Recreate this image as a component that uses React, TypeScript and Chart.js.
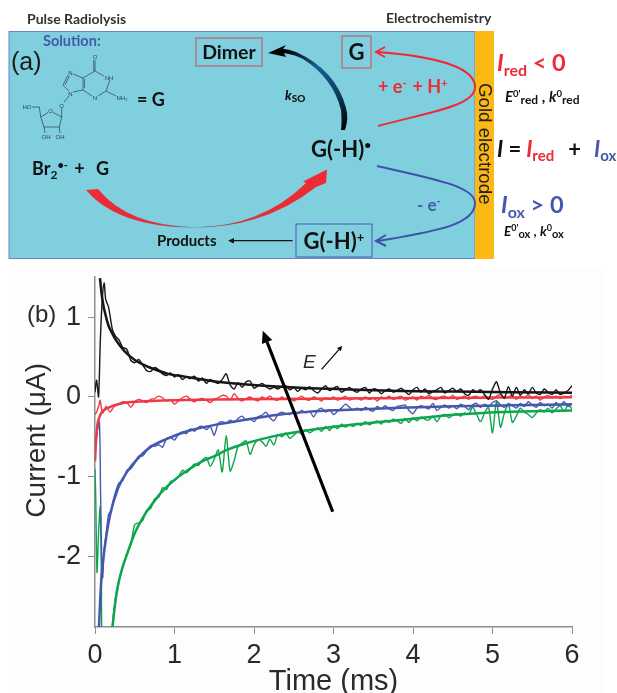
import React, { useEffect, useRef } from "react";
import { Chart, registerables } from "chart.js";

Chart.register(...registerables);

const xTickValues = [0, 1, 2, 3, 4, 5, 6];
const yTickValues = [-2, -1, 0, 1];

const gridTimes = [
  0.3, 0.35, 0.4, 0.45, 0.5, 0.55, 0.6, 0.65, 0.7, 0.75,
  0.8, 0.85, 0.9, 0.95, 1.0, 1.05, 1.1, 1.15, 1.2, 1.25,
  1.3, 1.35, 1.4, 1.45, 1.5, 1.55, 1.6, 1.65, 1.7, 1.75,
  1.8, 1.85, 1.9, 1.95, 2.0, 2.05, 2.1, 2.15, 2.2, 2.25,
  2.3, 2.35, 2.4, 2.45, 2.5, 2.55, 2.6, 2.65, 2.7, 2.75,
  2.8, 2.85, 2.9, 2.95, 3.0, 3.05, 3.1, 3.15, 3.2, 3.25,
  3.3, 3.35, 3.4, 3.45, 3.5, 3.55, 3.6, 3.65, 3.7, 3.75,
  3.8, 3.85, 3.9, 3.95, 4.0, 4.05, 4.1, 4.15, 4.2, 4.25,
  4.3, 4.35, 4.4, 4.45, 4.5, 4.55, 4.6, 4.65, 4.7, 4.75,
  4.8, 4.85, 4.9, 4.95, 5.0, 5.05, 5.1, 5.15, 5.2, 5.25,
  5.3, 5.35, 5.4, 5.45, 5.5, 5.55, 5.6, 5.65, 5.7, 5.75,
  5.8, 5.85, 5.9, 5.95, 6.0,
];

const blackMeasured = [
  0.72, 0.62, 0.6, 0.46, 0.43, 0.47, 0.4, 0.33, 0.32, 0.37,
  0.34, 0.29, 0.27, 0.3, 0.25, 0.28, 0.22, 0.25, 0.23, 0.26,
  0.2, 0.24, 0.17, 0.22, 0.19, 0.17, 0.22, 0.29, 0.15, 0.1,
  0.18, 0.12, 0.19, 0.2, 0.11, 0.14, 0.17, 0.13, 0.1, 0.12,
  0.1, 0.13, 0.14, 0.09, 0.12, 0.07, 0.11, 0.09, 0.13, 0.08,
  0.05, 0.1, 0.14, 0.08, 0.11, 0.13, 0.06, 0.09, 0.12, 0.08,
  0.06, 0.1, 0.12, 0.05, 0.1, 0.09, 0.04, 0.08, 0.1, 0.06,
  0.08, 0.11, 0.07, 0.03, 0.09, 0.12, 0.06, 0.1, 0.04, 0.07,
  0.09, 0.12, 0.05, 0.08, 0.11, 0.07, 0.1, 0.04, 0.02, 0.09,
  0.06, 0.09, 0.03, -0.03, 0.1, 0.19, 0.05, -0.01, 0.13, 0.01,
  0.12, 0.02, 0.09, 0.04, 0.12, 0.05, 0.03, 0.1, 0.06, 0.03,
  0.09, 0.03, 0.05, 0.08, 0.14,
];
const redMeasured = [
  -0.09, -0.06, -0.07, -0.13, -0.06, -0.03, -0.05, -0.07, -0.03, -0.02,
  0.01, -0.01, -0.05, -0.03, -0.09, -0.05, -0.01, 0.01, -0.03, -0.06,
  -0.03, -0.02, -0.04, -0.07, -0.03, -0.01, 0.02, 0.01, -0.04, 0.04,
  -0.02, -0.05, -0.02, 0.0, -0.03, -0.05, 0.0, -0.02, 0.01, -0.03,
  -0.04, 0.0, -0.03, -0.01, -0.05, -0.02, 0.01, -0.03, -0.04, 0.0,
  -0.02, -0.05, -0.01, -0.03, 0.0, -0.04, -0.02, 0.01, -0.04, -0.02,
  -0.01, -0.04, 0.0, -0.03, -0.01, -0.05, 0.0, -0.02, 0.01, -0.03,
  -0.01, 0.01, -0.04, -0.02, 0.0, -0.04, 0.01, -0.01, 0.02, -0.02,
  -0.03, 0.0, 0.01, -0.02, 0.02, -0.03, -0.01, 0.01, -0.03, 0.0,
  0.01, -0.02, 0.02, -0.01, -0.03, 0.01, 0.03, -0.02, 0.0, 0.02,
  -0.03, 0.01, -0.01, 0.03, -0.02, 0.01, -0.04, 0.0, 0.02, -0.01,
  0.01, -0.02, 0.01, 0.0, 0.02,
];
const blueMeasured = [
  -1.08, -1.05, -0.92, -0.9, -0.83, -0.74, -0.74, -0.67, -0.61, -0.62,
  -0.6, -0.63, -0.52, -0.51, -0.54, -0.47, -0.44, -0.46, -0.4, -0.43,
  -0.38, -0.37, -0.41, -0.37, -0.48, -0.33, -0.31, -0.33, -0.29, -0.32,
  -0.27, -0.24, -0.29, -0.27, -0.31, -0.25, -0.23, -0.19, -0.26, -0.3,
  -0.22, -0.19, -0.21, -0.22, -0.18, -0.21, -0.17, -0.2, -0.18, -0.25,
  -0.17, -0.14, -0.19, -0.16, -0.22, -0.18, -0.14, -0.09, -0.13, -0.16,
  -0.14, -0.17, -0.13, -0.16, -0.18, -0.12, -0.15, -0.11, -0.15, -0.17,
  -0.12, -0.11, -0.1, -0.17, -0.21, -0.14, -0.11, -0.13, -0.15, -0.08,
  -0.17, -0.13, -0.1, -0.14, -0.11, -0.15, -0.09, -0.12, -0.16, -0.1,
  -0.08, -0.13, -0.09, -0.12, -0.07, -0.05, -0.1, -0.13, -0.08, -0.11,
  -0.14, -0.08, -0.12, -0.06, -0.1, -0.13, -0.07, -0.11, -0.09, -0.14,
  -0.07, -0.11, -0.06, -0.12, -0.08,
];
const greenMeasured = [
  -2.32, -2.12, -1.98, -1.85, -1.6, -1.58, -1.55, -1.42, -1.4, -1.28,
  -1.26, -1.14, -1.16, -1.06, -1.05, -1.0, -0.92, -0.95, -0.9, -0.84,
  -0.86, -0.79, -0.76, -0.87, -0.78, -0.665, -0.94, -0.485, -0.93, -0.8,
  -0.62, -0.58, -0.55, -0.72, -0.6, -0.54, -0.56, -0.62, -0.53, -0.6,
  -0.47, -0.5, -0.45, -0.52, -0.48, -0.44, -0.46, -0.41, -0.45, -0.42,
  -0.39, -0.43, -0.37, -0.42, -0.36, -0.4, -0.34, -0.38, -0.35, -0.37,
  -0.33, -0.36, -0.31, -0.35, -0.32, -0.3, -0.34, -0.29, -0.32, -0.28,
  -0.3, -0.33, -0.27, -0.32, -0.26, -0.3, -0.25, -0.28, -0.29, -0.24,
  -0.31, -0.24, -0.22, -0.26, -0.23, -0.21, -0.24, -0.2, -0.22, -0.13,
  -0.22, -0.31, -0.2, -0.13, -0.45, -0.05, -0.38, -0.2, -0.09, -0.32,
  -0.24, -0.14, -0.19, -0.22, -0.26, -0.2, -0.16, -0.19, -0.14, -0.2,
  -0.15, -0.11, -0.18, -0.1, -0.15,
];

const blackEarlyTimes = [0, 0.02, 0.045, 0.065, 0.09, 0.115, 0.135, 0.17, 0.22, 0.26];
const blackEarly = [0.06, 0.21, 0.0, 0.65, 1.2, 1.43, 1.22, 1.13, 0.84, 0.76];
const redEarlyTimes = [0, 0.025, 0.05, 0.065, 0.08, 0.1, 0.14, 0.19, 0.24];
const redEarly = [-0.22, -0.18, -0.1, -0.04, -0.14, -0.2, -0.12, -0.19, -0.12];
const blueEarlyTimes = [0, 0.02, 0.055, 0.07, 0.085, 0.097, 0.113, 0.14, 0.17, 0.2, 0.25];
const blueEarly = [-0.75, -0.5, -0.31, -1.2, -2.08, -2.27, -1.96, -1.72, -1.48, -1.42, -1.22];
const greenEarlyTimes = [0, 0.01, 0.025, 0.045, 0.065, 0.08, 0.1, 0.2, 0.22, 0.26];
const greenEarly = [-0.9, -1.3, -2.2, -1.7, -1.38, -2.2, -3.2, -3.2, -2.85, -2.5];

const blackFitTimes = [0.063, 0.08, 0.105, 0.135, 0.168, 0.21, 0.25, 0.31, 0.377, 0.5, 0.6, 0.713, 0.92, 1.13, 1.47, 1.87, 2.28, 2.7, 3.12, 3.84, 4.5, 5.2, 6];
const blackFit = [1.49, 1.32, 1.15, 1.02, 0.9, 0.81, 0.736, 0.65, 0.57, 0.464, 0.41, 0.36, 0.29, 0.255, 0.2, 0.16, 0.13, 0.11, 0.096, 0.075, 0.068, 0.06, 0.054];
const redFitTimes = [0, 0.01, 0.03, 0.05, 0.08, 0.12, 0.17, 0.29, 0.42, 0.71, 1.0, 1.51, 2.3, 3.1, 4, 5, 6];
const redFit = [-0.81, -0.6, -0.35, -0.27, -0.2, -0.16, -0.134, -0.092, -0.066, -0.05, -0.04, -0.033, -0.025, -0.018, -0.012, -0.008, -0.005];
const blueFitTimes = [0.05, 0.065, 0.084, 0.126, 0.19, 0.29, 0.42, 0.54, 0.71, 0.92, 1.13, 1.34, 1.51, 1.87, 2.28, 2.7, 3.12, 3.84, 4.5, 5.2, 6];
const blueFit = [-2.89, -2.55, -2.23, -1.86, -1.48, -1.145, -0.916, -0.77, -0.62, -0.52, -0.44, -0.385, -0.35, -0.29, -0.226, -0.184, -0.163, -0.134, -0.118, -0.105, -0.092];
const greenFitTimes = [0.22, 0.25, 0.29, 0.34, 0.4, 0.5, 0.61, 0.71, 0.84, 1, 1.17, 1.34, 1.51, 1.66, 1.87, 2.28, 2.7, 3.12, 3.54, 3.84, 4.34, 4.97, 5.5, 6];
const greenFit = [-2.89, -2.62, -2.36, -2.16, -1.98, -1.71, -1.5, -1.355, -1.19, -1.04, -0.916, -0.81, -0.74, -0.665, -0.59, -0.485, -0.414, -0.36, -0.318, -0.289, -0.238, -0.195, -0.18, -0.17];

const bigArrowTail = { x: 2.99, y: -1.44 };
const bigArrowTip = { x: 2.11, y: 0.83 };
const smallArrowTail = { x: 2.85, y: 0.347 };
const smallArrowTip = { x: 3.11, y: 0.64 };

const BLACK = "#161616";
const RED = "#ee3a45";
const BLUE = "#4658ad";
const GREEN = "#0da64f";
const AXIS = "#8e8e8e";
const FONT = "'Liberation Sans', Arial, sans-serif";

function zip(ts: number[], vs: number[]) {
  return ts.map((t, i) => ({ x: t, y: vs[i] }));
}

function measured(label: string, color: string, et: number[], ev: number[], gv: number[]) {
  return {
    label,
    data: [...zip(et, ev), ...zip(gridTimes, gv)],
    borderColor: color,
    borderWidth: 1.4,
    pointRadius: 0,
    tension: 0.25,
  };
}
function fitted(label: string, color: string, ts: number[], vs: number[]) {
  return {
    label,
    data: zip(ts, vs),
    borderColor: color,
    borderWidth: 2.5,
    pointRadius: 0,
    cubicInterpolationMode: "monotone" as const,
  };
}

const annotate = {
  id: "annotate",
  beforeDraw(chart: any) {
    const c = chart.ctx;
    c.save();
    c.fillStyle = "#fdfdfd";
    c.fillRect(10, 268, 595, 425);
    c.restore();
  },
  afterDraw(chart: any) {
    const c = chart.ctx;
    const sx = chart.scales.x;
    const sy = chart.scales.y;
    const arrow = (a: any, b: any, w: number, hl: number, hw: number) => {
      const x0 = sx.getPixelForValue(a.x), y0 = sy.getPixelForValue(a.y);
      const x1 = sx.getPixelForValue(b.x), y1 = sy.getPixelForValue(b.y);
      const ang = Math.atan2(y1 - y0, x1 - x0);
      const bx = x1 - hl * Math.cos(ang), by = y1 - hl * Math.sin(ang);
      c.save();
      c.strokeStyle = "#000";
      c.fillStyle = "#000";
      c.lineWidth = w;
      c.beginPath();
      c.moveTo(x0, y0);
      c.lineTo(bx, by);
      c.stroke();
      c.beginPath();
      c.moveTo(x1, y1);
      c.lineTo(bx + hw * Math.sin(ang), by - hw * Math.cos(ang));
      c.lineTo(bx - hw * Math.sin(ang), by + hw * Math.cos(ang));
      c.closePath();
      c.fill();
      c.restore();
    };
    arrow(bigArrowTail, bigArrowTip, 3.2, 12, 5.5);
    arrow(smallArrowTail, smallArrowTip, 1.2, 5, 2.5);
    c.save();
    c.fillStyle = "#2a2a2a";
    c.font = `italic 19px ${FONT}`;
    c.textBaseline = "alphabetic";
    c.fillText("E", 303, 368);
    c.font = `24px ${FONT}`;
    c.fillText("(b)", 27, 322);
    c.restore();
  },
};

const bold = "Lato, 'Open Sans', sans-serif";

function Schematic() {
  const ink = "#2c3e50";
  const bonds = [
    [95, 60, 95, 71], [93.8, 60, 93.8, 71], [95, 71, 104, 76], [110, 80, 106, 91], [106, 91, 98, 96],
    [92, 96, 83, 90], [83, 90, 83, 78], [83, 78, 95, 71], [84.4, 88, 84.4, 79], [106, 91, 116, 96],
    [83, 78, 73, 74], [68, 75, 63, 85], [69.5, 76, 65, 85], [63, 85, 69, 91], [73, 92, 83, 90],
    [69, 96, 64, 102], [61.7, 108, 61.7, 117], [61.7, 117, 53, 112.5], [48, 112.5, 40.7, 117],
    [40.7, 117, 44, 127], [44, 127, 59.3, 127], [59.3, 127, 61.7, 117], [40.7, 117, 39.3, 107],
    [39.3, 107, 32, 107], [44, 127, 45, 133], [59.3, 127, 60, 133],
  ];
  const ch = (x: number, y: number, t: string, s = 6) => (
    <text x={x} y={y} fontSize={s} fontFamily={FONT} fill={ink} textAnchor="middle">{t}</text>
  );
  return (
    <svg width={617} height={265} style={{ position: "absolute", left: 0, top: 0, pointerEvents: "none" }}>
      <defs>
        <linearGradient id="redG" gradientUnits="userSpaceOnUse" x1="86" y1="200" x2="327" y2="200">
          <stop offset="0" stopColor="#ee2a35" />
          <stop offset="0.3" stopColor="#e0303a" />
          <stop offset="0.45" stopColor="#2f7f9a" />
          <stop offset="0.6" stopColor="#c8404a" />
          <stop offset="0.8" stopColor="#ee2a35" />
        </linearGradient>
        <linearGradient id="blackG" gradientUnits="userSpaceOnUse" x1="345" y1="130" x2="272" y2="48">
          <stop offset="0" stopColor="#000" />
          <stop offset="0.3" stopColor="#0d3f66" />
          <stop offset="0.6" stopColor="#1b5f8c" />
          <stop offset="0.9" stopColor="#000" />
        </linearGradient>
      </defs>
      <rect x={9} y={31.5} width={466} height={227} fill="#80cfdf" stroke="#6b82c9" strokeWidth={1} />
      <rect x={475} y={31} width={19} height={228} fill="#fdb913" />
      <text x={27} y={24} fontFamily={bold} fontWeight={700} fontSize={14} fill="#333">Pulse Radiolysis</text>
      <text x={386} y={23} fontFamily={bold} fontWeight={700} fontSize={14} fill="#333">Electrochemistry</text>
      <text x={43} y={46} fontFamily={bold} fontWeight={700} fontSize={14.5} fill="#4658ad">Solution:</text>
      <text x={11} y={70} fontFamily={FONT} fontSize={25} fill="#1a1a1a">(a)</text>

      {bonds.map((b, i) => (
        <line key={i} x1={b[0]} y1={b[1]} x2={b[2]} y2={b[3]} stroke={ink} strokeWidth={0.7} />
      ))}
      {ch(95, 59, "O")}
      {ch(109, 80, "NH")}
      {ch(95, 100, "N")}
      {ch(70.5, 75, "N")}
      {ch(70.5, 96, "N")}
      {ch(122, 99.5, "NH₂")}
      {ch(61.7, 107.5, "O")}
      {ch(50.5, 113, "O")}
      {ch(27, 109, "HO")}
      {ch(46, 138.5, "OH")}
      {ch(60, 138.5, "OH")}

      <text x={137} y={106} fontFamily={bold} fontWeight={700} fontSize={18} fill="#111">= G</text>
      <text x={32} y={175} fontFamily={bold} fontWeight={700} fontSize={18} fill="#111">
        Br<tspan fontSize={12} dy={4}>2</tspan>
        <tspan fontSize={11} dy={-10}>•-</tspan>
        <tspan dy={6} dx={2}> + </tspan><tspan dx={7}>G</tspan>
      </text>

      <path d="M86,190 Q118,227.5 195,227.5 Q265,227.5 316,187 L326,183 L327,169.5 L303,181.5 L306,183 Q262,226.5 195,227.2 Q128,226 98,189 Z" fill="url(#redG)" />

      <path d="M341,130 L345,130 Q349,118 346,108 Q336,70 296,52 Q288,49 283,49 L286,45 L268,53 L286,57 L284,53 Q296,55 303,59 Q333,78 341,110 Q342,122 341,130 Z" fill="url(#blackG)" />
      <text x={285} y={100} fontFamily={bold} fontWeight={900} fontSize={13} fill="#111">
        <tspan fontStyle="italic">k</tspan><tspan fontSize={10} dy={2}>SO</tspan>
      </text>

      <rect x={196} y={38} width={66} height={28} fill="none" stroke="#d04a5a" strokeWidth={1} />
      <text x={229} y={59} textAnchor="middle" fontFamily={bold} fontWeight={700} fontSize={19.5} fill="#111">Dimer</text>
      <rect x={342} y={36} width={29} height={32} fill="none" stroke="#d04a5a" strokeWidth={1} />
      <text x={356.5} y={60} textAnchor="middle" fontFamily={bold} fontWeight={700} fontSize={22} fill="#111">G</text>

      <path d="M378,126 C430,112 475,106 475,87 C475,66 430,56 378,52" fill="none" stroke="#ee2a35" strokeWidth={2} />
      <path d="M385,47 L376,52 L385,57" fill="none" stroke="#ee2a35" strokeWidth={2} />
      <text x={378} y={93} fontFamily={bold} fontWeight={700} fontSize={18} fill="#ee2a35">
        + e<tspan fontSize={11} dy={-6}>-</tspan><tspan dy={6} dx={6}>+ H</tspan><tspan fontSize={11} dy={-6}>+</tspan>
      </text>

      <text x={311} y={157} fontFamily={bold} fontWeight={700} fontSize={22} fill="#111">
        G(-H)<tspan fontSize={12} dy={-8}>•</tspan>
      </text>

      <path d="M377,166 C430,178 475,186 475,203 C475,226 430,232 378,241" fill="none" stroke="#3f51a8" strokeWidth={2} />
      <path d="M386,235 L376,241 L386,246" fill="none" stroke="#3f51a8" strokeWidth={2} />
      <text x={417} y={211} fontFamily={bold} fontWeight={700} fontSize={17} fill="#4658ad">
        - e<tspan fontSize={11} dy={-6}>-</tspan>
      </text>

      <rect x={296} y={224} width={76} height={33} fill="none" stroke="#4658ad" strokeWidth={1} />
      <text x={334} y={249} textAnchor="middle" fontFamily={bold} fontWeight={700} fontSize={22} fill="#111">
        G(-H)<tspan fontSize={13} dy={-7}>+</tspan>
      </text>

      <text x={157} y={246} fontFamily={bold} fontWeight={700} fontSize={15} fill="#111">Products</text>
      <line x1={292.5} y1={240.7} x2={231} y2={240.7} stroke="#111" strokeWidth={1.2} />
      <path d="M228,240.7 L234,238 L234,243.5 Z" fill="#111" />

      <text transform="translate(479,83) rotate(90)" fontFamily={FONT} fontSize={18.7} fill="#222">Gold electrode</text>

      <text x={497} y={71} fontFamily={bold} fontWeight={700} fontSize={23.5} fill="#ee2a35">
        <tspan fontStyle="italic">I</tspan><tspan fontSize={16} dy={5}>red</tspan><tspan dy={-5}> {"<"} 0</tspan>
      </text>
      <text x={505} y={102} fontFamily={bold} fontWeight={700} fontSize={15} fill="#111">
        <tspan fontStyle="italic">E</tspan><tspan fontSize={9.5} dy={-5}>0'</tspan><tspan fontSize={12} dy={7}>red</tspan>
        <tspan fontSize={15} dy={-2}> , </tspan><tspan fontStyle="italic">k</tspan><tspan fontSize={9.5} dy={-5}>0</tspan>
        <tspan fontSize={12} dy={7}>red</tspan>
      </text>

      <text x={497} y={157} fontFamily={bold} fontWeight={700} fontSize={22} fill="#111">
        <tspan fontStyle="italic">I</tspan> =
        <tspan fill="#ee2a35" fontStyle="italic"> I</tspan><tspan fill="#ee2a35" fontSize={15} dy={4}>red</tspan>
        <tspan dy={-4} dx={14}>+</tspan>
        <tspan fill="#4658ad" fontStyle="italic" dx={13}>I</tspan><tspan fill="#4658ad" fontSize={15} dy={4}>ox</tspan>
      </text>

      <text x={501} y={213} fontFamily={bold} fontWeight={700} fontSize={23.5} fill="#4658ad">
        <tspan fontStyle="italic">I</tspan><tspan fontSize={16} dy={5}>ox</tspan><tspan dy={-5}> {">"} 0</tspan>
      </text>
      <text x={504} y={236} fontFamily={bold} fontWeight={700} fontSize={13.5} fill="#111">
        <tspan fontStyle="italic">E</tspan><tspan fontSize={9} dy={-5}>0'</tspan><tspan fontSize={11} dy={7}>ox</tspan>
        <tspan fontSize={13.5} dy={-2}> , </tspan><tspan fontStyle="italic">k</tspan><tspan fontSize={9} dy={-5}>0</tspan>
        <tspan fontSize={11} dy={7}>ox</tspan>
      </text>
    </svg>
  );
}

export default function App() {
  const ref = useRef<HTMLCanvasElement>(null);
  useEffect(() => {
    const chart = new Chart(ref.current!, {
      type: "line",
      plugins: [annotate],
      data: {
        datasets: [
          measured("Black measured", BLACK, blackEarlyTimes, blackEarly, blackMeasured),
          fitted("Black fit", BLACK, blackFitTimes, blackFit),
          measured("Red measured", RED, redEarlyTimes, redEarly, redMeasured),
          fitted("Red fit", RED, redFitTimes, redFit),
          measured("Blue measured", BLUE, blueEarlyTimes, blueEarly, blueMeasured),
          fitted("Blue fit", BLUE, blueFitTimes, blueFit),
          measured("Green measured", GREEN, greenEarlyTimes, greenEarly, greenMeasured),
          fitted("Green fit", GREEN, greenFitTimes, greenFit),
        ] as any,
      },
      options: {
        responsive: false,
        animation: false,
        devicePixelRatio: 1,
        layout: { padding: { top: 277, right: 45, left: 0, bottom: 0 } },
        plugins: { legend: { display: false }, tooltip: { enabled: false } },
        scales: {
          x: {
            type: "linear",
            min: 0,
            max: 6,
            afterBuildTicks: (s: any) => { s.ticks = xTickValues.map((value) => ({ value })); },
            afterFit: (s: any) => { s.height = 66; },
            grid: { drawOnChartArea: false, color: AXIS, tickLength: 7, lineWidth: 1 },
            border: { color: AXIS, width: 1.5 },
            ticks: { maxRotation: 0, autoSkip: false, padding: 5, color: "#2a2a2a", font: { family: FONT, size: 27 }, callback: (v: any) => String(v) },
            title: { display: true, text: "Time (ms)", color: "#2a2a2a", font: { family: FONT, size: 29, lineHeight: 1 }, padding: { top: 0, bottom: -3 } },
          },
          y: {
            type: "linear",
            min: -2.886,
            max: 1.505,
            afterBuildTicks: (s: any) => { s.ticks = yTickValues.map((value) => ({ value })); },
            afterFit: (s: any) => { s.width = 95; },
            grid: { drawOnChartArea: false, color: AXIS, tickLength: 7, lineWidth: 1 },
            border: { color: AXIS, width: 1.5 },
            ticks: { autoSkip: false, padding: 7, color: "#2a2a2a", font: { family: FONT, size: 27 }, callback: (v: any) => String(v) },
            title: { display: true, text: "   Current (μA)", color: "#2a2a2a", font: { family: FONT, size: 28 }, padding: { top: 20, bottom: 0 } },
          },
        },
      },
    } as any);
    return () => chart.destroy();
  }, []);
  return (
    <div style={{ position: "absolute", left: 0, top: 0, width: 617, height: 693, overflow: "hidden", background: "#fff" }}>
      <canvas ref={ref} width={617} height={693} style={{ position: "absolute", left: 0, top: 0 }} />
      <Schematic />
    </div>
  );
}
